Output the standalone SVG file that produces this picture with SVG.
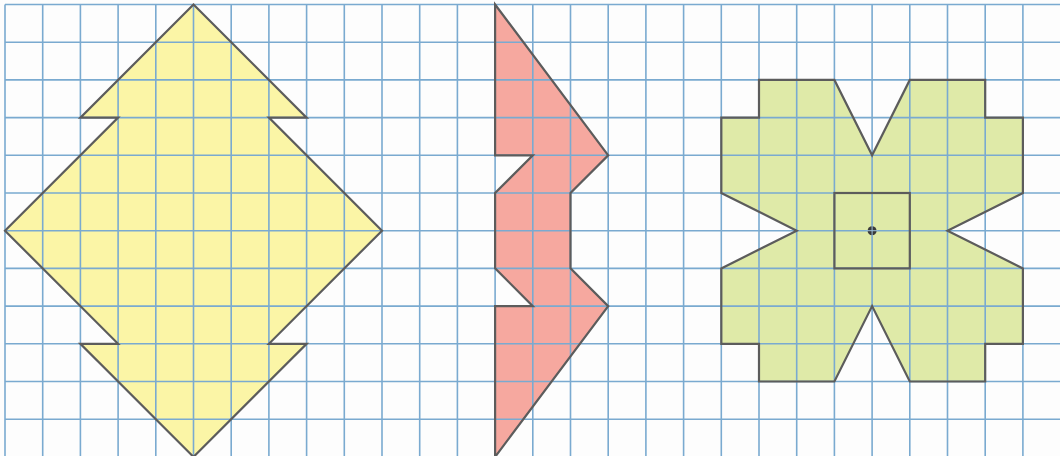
<svg xmlns="http://www.w3.org/2000/svg" width="1060" height="456" viewBox="0 0 1060 456">
<style>
.fillY{fill:#fbf5a6;stroke:none}
.fillP{fill:#f6a89f;stroke:none}
.fillG{fill:#dfeaa8;stroke:none}
.grid{fill:none;stroke:#7aaad0;stroke-width:1.6}
.outline{fill:none;stroke:#5c5c5c;stroke-width:2.2;stroke-linejoin:miter}
</style>
<rect width="1060" height="456" fill="#fdfdfd"/>
<g id="fills">
<polygon class="fillY" points="193.5,4.5 306.6,117.6 268.9,117.6 382,230.7 268.9,343.8 306.6,343.8 193.5,456.9 80.4,343.8 118.1,343.8 5,230.7 118.1,117.6 80.4,117.6"/>
<polygon class="fillP" points="495.1,4.5 608.2,155.3 570.5,193 570.5,268.4 608.2,306.1 495.1,456.9 495.1,306.1 532.8,306.1 495.1,268.4 495.1,193 532.8,155.3 495.1,155.3"/>
<polygon class="fillG" points="759,79.9 834.4,79.9 872.1,155.3 909.8,79.9 985.2,79.9 985.2,117.6 1022.9,117.6 1022.9,193 947.5,230.7 1022.9,268.4 1022.9,343.8 985.2,343.8 985.2,381.5 909.8,381.5 872.1,306.1 834.4,381.5 759,381.5 759,343.8 721.3,343.8 721.3,268.4 796.7,230.7 721.3,193 721.3,117.6 759,117.6"/>
</g>
<g id="grid">
<path class="grid" d="M5,4.5V456M42.7,4.5V456M80.4,4.5V456M118.1,4.5V456M155.8,4.5V456M193.5,4.5V456M231.2,4.5V456M268.9,4.5V456M306.6,4.5V456M344.3,4.5V456M382,4.5V456M419.7,4.5V456M457.4,4.5V456M495.1,4.5V456M532.8,4.5V456M570.5,4.5V456M608.2,4.5V456M645.9,4.5V456M683.6,4.5V456M721.3,4.5V456M759,4.5V456M796.7,4.5V456M834.4,4.5V456M872.1,4.5V456M909.8,4.5V456M947.5,4.5V456M985.2,4.5V456M1022.9,4.5V456
M5,4.5H1060M5,42.2H1060M5,79.9H1060M5,117.6H1060M5,155.3H1060M5,193H1060M5,230.7H1060M5,268.4H1060M5,306.1H1060M5,343.8H1060M5,381.5H1060M5,419.2H1060"/>
</g>
<g id="yellow-shape">
<polygon class="outline" points="193.5,4.5 306.6,117.6 268.9,117.6 382,230.7 268.9,343.8 306.6,343.8 193.5,456.9 80.4,343.8 118.1,343.8 5,230.7 118.1,117.6 80.4,117.6"/>
</g>
<g id="pink-shape">
<polygon class="outline" points="495.1,4.5 608.2,155.3 570.5,193 570.5,268.4 608.2,306.1 495.1,456.9 495.1,306.1 532.8,306.1 495.1,268.4 495.1,193 532.8,155.3 495.1,155.3"/>
</g>
<g id="green-shape">
<polygon class="outline" points="759,79.9 834.4,79.9 872.1,155.3 909.8,79.9 985.2,79.9 985.2,117.6 1022.9,117.6 1022.9,193 947.5,230.7 1022.9,268.4 1022.9,343.8 985.2,343.8 985.2,381.5 909.8,381.5 872.1,306.1 834.4,381.5 759,381.5 759,343.8 721.3,343.8 721.3,268.4 796.7,230.7 721.3,193 721.3,117.6 759,117.6"/>
<rect class="outline" x="834.4" y="193" width="75.4" height="75.4"/>
</g>
<g id="center-point">
<circle cx="872.1" cy="230.7" r="4.5" fill="#3a3a3a"/>
<path d="M866.6,230.7H877.6M872.1,225.2V236.2" stroke="#9cc0dc" stroke-width="1"/>
</g>
</svg>
